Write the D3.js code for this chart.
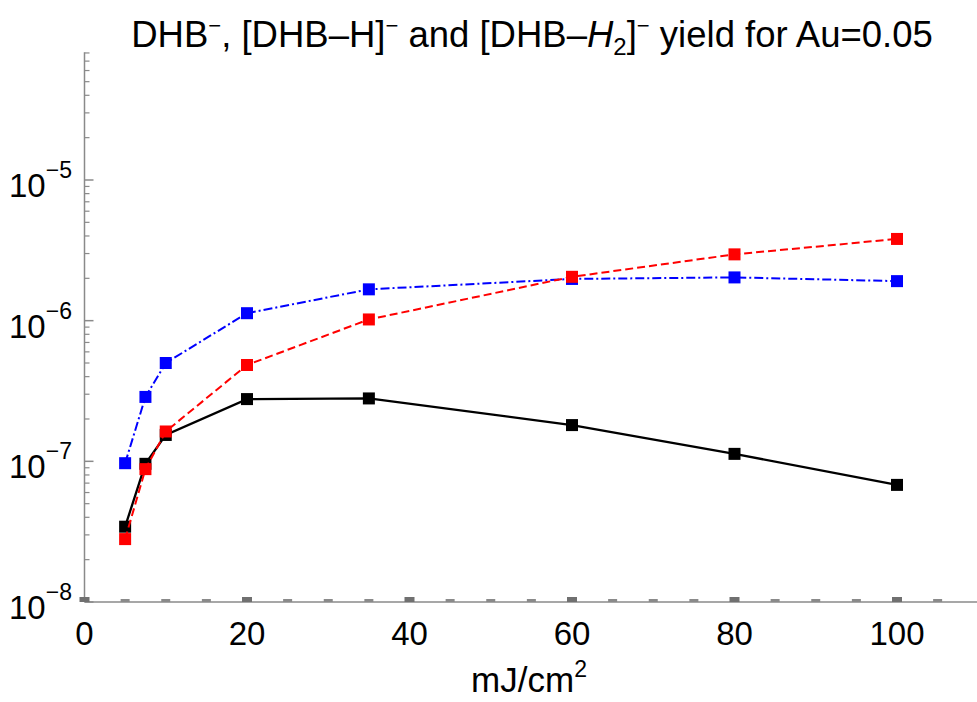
<!DOCTYPE html>
<html>
<head>
<meta charset="utf-8">
<script src="https://cdn.jsdelivr.net/npm/d3@7"></script>
<style>
  html, body { margin: 0; padding: 0; background: #fff; }
  svg { display: block; font-family: "Liberation Sans", Arial, Helvetica, sans-serif; }
</style>
</head>
<body>
<svg id="chart" width="977" height="702"></svg>
<script>
// ---- data ----
const fluence = [5, 7.5, 10, 20, 35, 60, 80, 100];
const dhb      = [3.43e-8, 9.6e-8, 1.54e-7, 2.77e-7, 2.8e-7, 1.81e-7, 1.13e-7, 6.8e-8];   // black
const dhbH     = [2.8e-8, 8.8e-8, 1.63e-7, 4.84e-7, 1.02e-6, 2.05e-6, 2.96e-6, 3.81e-6];  // red
const dhbH2    = [9.7e-8, 2.87e-7, 5.0e-7, 1.13e-6, 1.67e-6, 1.98e-6, 2.03e-6, 1.91e-6];  // blue
const xTicks = [0, 20, 40, 60, 80, 100];
const yTickExps = [-8, -7, -6, -5];

const svg = d3.select("#chart");
const x = d3.scaleLinear().domain([0, 110]).range([84.5, 978.25]);
const y = d3.scaleLog().domain([1e-8, 8.1e-5]).range([602, 52.2]);

const axisCol = "#8a8a8a";

// ---- axes lines ----
svg.append("line").attr("x1", x(0)).attr("x2", 977).attr("y1", y(1e-8)).attr("y2", y(1e-8))
  .attr("stroke", axisCol).attr("stroke-width", 1.5);
svg.append("line").attr("x1", x(0)).attr("x2", x(0)).attr("y1", y(1e-8)).attr("y2", y(8.1e-5))
  .attr("stroke", axisCol).attr("stroke-width", 1.5);

// y ticks (major + minor)
const yMinor = [];
for (let e = -8; e <= -5; e++) for (let m = 2; m <= 9; m++) { const v = m * Math.pow(10, e); if (v <= 8.1e-5) yMinor.push(v); }
svg.append("g").selectAll("line").data(yMinor).join("line")
  .attr("x1", x(0)).attr("x2", x(0) + 5).attr("y1", d => y(d)).attr("y2", d => y(d))
  .attr("stroke", axisCol).attr("stroke-width", 1.2);
svg.append("g").selectAll("line").data(yTickExps).join("line")
  .attr("x1", x(0)).attr("x2", x(0) + 9).attr("y1", d => y(Math.pow(10, d))).attr("y2", d => y(Math.pow(10, d)))
  .attr("stroke", axisCol).attr("stroke-width", 1.5);

// y tick labels
const yl = svg.append("g").selectAll("text").data(yTickExps).join("text")
  .attr("x", 9).attr("y", d => y(Math.pow(10, d)) + 17)
  .attr("font-size", 33).attr("fill", "#000");
yl.append("tspan").text("10");
yl.append("tspan").attr("dy", -19).attr("font-size", 23).text(d => "\u2212" + (-d));

// x ticks (major + minor)
const xMinor = d3.range(5, 110, 5).filter(v => v % 20 !== 0);
svg.append("g").selectAll("rect").data(xMinor).join("rect")
  .attr("x", d => x(d) - 4.5).attr("width", 9).attr("y", y(1e-8) - 3).attr("height", 3)
  .attr("fill", axisCol);
svg.append("g").selectAll("rect").data(xTicks).join("rect")
  .attr("x", d => x(d) - 5).attr("width", 10).attr("y", y(1e-8) - 5).attr("height", 5)
  .attr("fill", "#707070");
svg.append("g").selectAll("text").data(xTicks).join("text")
  .attr("x", d => x(d)).attr("y", 645).attr("text-anchor", "middle")
  .attr("font-size", 33).attr("fill", "#000").text(d => d);

// x label
const xl = svg.append("text").attr("x", 529).attr("y", 692).attr("text-anchor", "middle")
  .attr("font-size", 35).attr("fill", "#000");
xl.append("tspan").text("mJ/cm");
xl.append("tspan").attr("dy", -15).attr("font-size", 23).text("2");

// title
const t = svg.append("text").attr("x", 532).attr("y", 47).attr("text-anchor", "middle")
  .attr("font-size", 36.5).attr("fill", "#000");
t.append("tspan").text("DHB");
t.append("tspan").attr("dy", -14).attr("font-size", 22).text("\u2212");
t.append("tspan").attr("dy", 14).text(", [DHB\u2013H]");
t.append("tspan").attr("dy", -14).attr("font-size", 22).text("\u2212");
t.append("tspan").attr("dy", 14).text(" and [DHB\u2013");
t.append("tspan").attr("font-style", "italic").text("H");
t.append("tspan").attr("dy", 8).attr("font-size", 24).text("2");
t.append("tspan").attr("dy", -8).text("]");
t.append("tspan").attr("dy", -14).attr("font-size", 22).text("\u2212");
t.append("tspan").attr("dy", 14).text(" yield for Au=0.05");

// ---- series ----
const series = [
  { vals: dhbH2, color: "#0000ff", dash: "9,3,2,3", w: 2 },
  { vals: dhb,   color: "#000000", dash: null, w: 2.3 },
  { vals: dhbH,  color: "#ff0000", dash: "8,4", w: 2 }
];
const line = d3.line().x(d => x(d[0])).y(d => y(d[1]));
series.forEach(s => {
  const pts = fluence.map((f, i) => [f, s.vals[i]]);
  const g = svg.append("g");
  g.append("path").attr("d", line(pts)).attr("fill", "none")
    .attr("stroke", s.color).attr("stroke-width", s.w)
    .attr("stroke-dasharray", s.dash);
  g.selectAll("rect").data(pts).join("rect")
    .attr("x", d => x(d[0]) - 6).attr("y", d => y(d[1]) - 6)
    .attr("width", 12).attr("height", 12).attr("fill", s.color);
});
</script>
</body>
</html>
